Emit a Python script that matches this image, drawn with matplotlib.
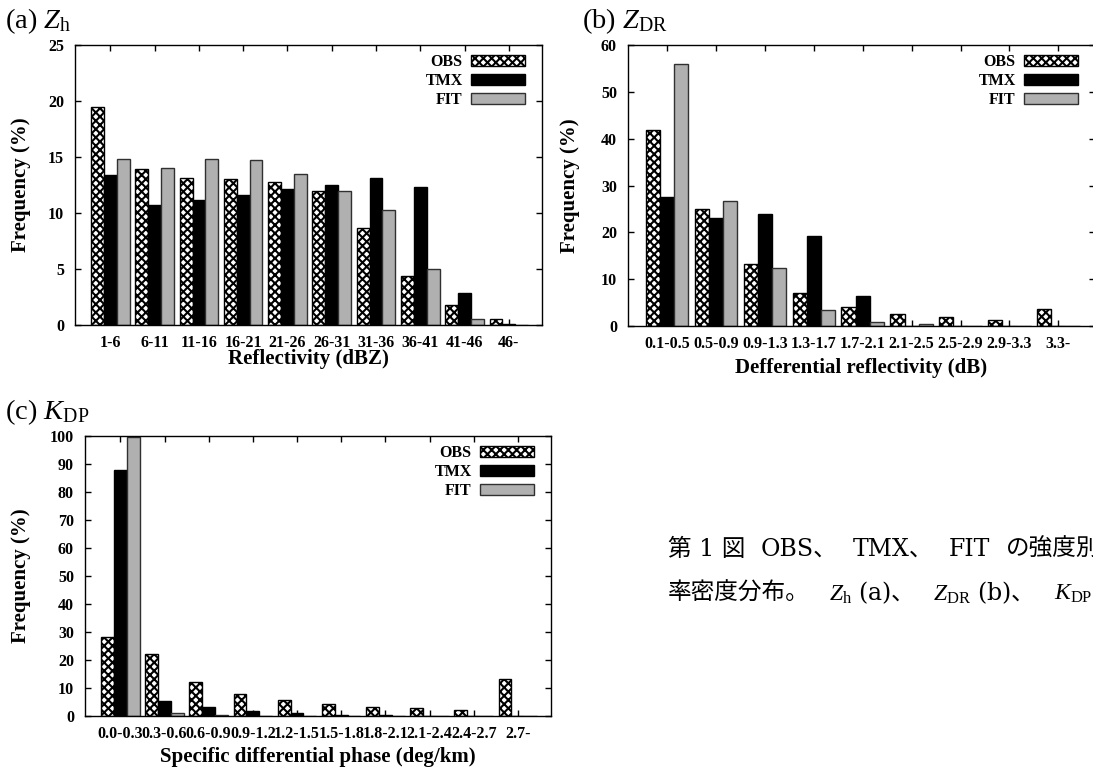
import numpy as np
import matplotlib.pyplot as plt

plt.rcParams['font.family'] = ['Liberation Serif', 'Noto Sans CJK JP']
plt.rcParams['mathtext.fontset'] = 'custom'
plt.rcParams['mathtext.rm'] = 'Liberation Serif'
plt.rcParams['mathtext.it'] = 'Liberation Serif:italic'
plt.rcParams['hatch.linewidth'] = 1.5

# (a) Zh
zh_bins = ['1-6', '6-11', '11-16', '16-21', '21-26', '26-31', '31-36', '36-41', '41-46', '46-']
zh_obs = [19.5, 13.9, 13.1, 13.0, 12.8, 12.0, 8.7, 4.4, 1.8, 0.5]
zh_tmx = [13.4, 10.7, 11.2, 11.6, 12.1, 12.5, 13.1, 12.3, 2.9, 0.05]
zh_fit = [14.8, 14.0, 14.8, 14.7, 13.5, 12.0, 10.3, 5.0, 0.5, 0.0]

# (b) ZDR
zdr_bins = ['0.1-0.5', '0.5-0.9', '0.9-1.3', '1.3-1.7', '1.7-2.1', '2.1-2.5', '2.5-2.9', '2.9-3.3', '3.3-']
zdr_obs = [41.8, 25.0, 13.3, 7.0, 4.0, 2.5, 1.85, 1.2, 3.7]
zdr_tmx = [27.6, 23.0, 23.9, 19.3, 6.4, 0.0, 0.0, 0.0, 0.0]
zdr_fit = [55.9, 26.6, 12.4, 3.5, 0.85, 0.35, 0.1, 0.05, 0.05]

# (c) KDP
kdp_bins = ['0.0-0.3', '0.3-0.6', '0.6-0.9', '0.9-1.2', '1.2-1.5', '1.5-1.8', '1.8-2.1', '2.1-2.4', '2.4-2.7', '2.7-']
kdp_obs = [28.2, 22.0, 12.1, 7.8, 5.6, 4.2, 3.3, 2.8, 2.0, 13.2]
kdp_tmx = [88.0, 5.4, 3.2, 1.8, 1.0, 0.5, 0.2, 0.1, 0.1, 0.1]
kdp_fit = [99.5, 0.9, 0.2, 0.0, 0.0, 0.0, 0.0, 0.0, 0.0, 0.0]

# caption, word groups of a justified line (cut at the right edge, as in the source)
caption_1 = [['第 1 図'], ['OBS、'], ['TMX、'], ['FIT'], ['の強度別']]
caption_2 = [['率密度分布。'], [r'$\mathit{Z}_{\mathrm{h}}$ (a)', '、'],
             [r'$\mathit{Z}_{\mathrm{DR}}$ (b)', '、'], [r'$\mathit{K}_{\mathrm{DP}}$']]

W, H = 1093, 771
fig = plt.figure(figsize=(W / 100, H / 100), dpi=100)


def add_axes(left, right, top, bottom):
    return fig.add_axes([left / W, 1 - bottom / H, (right - left) / W, (bottom - top) / H])


def draw_panel(ax, bins, obs, tmx, fit, ymax, ystep, xlabel, xlabel_y, ylabel_x):
    x = np.arange(len(bins))
    w = 0.29
    ax.bar(x - w, obs, w, color='white', edgecolor='black', hatch='xxxx', linewidth=1.0, label='OBS')
    ax.bar(x, tmx, w, color='black', edgecolor='black', linewidth=1.0, label='TMX')
    ax.bar(x + w, fit, w, color='#b0b0b0', edgecolor='#303030', linewidth=1.0, label='FIT')
    ax.set_xlim(-0.8, len(bins) - 0.25)
    ax.set_ylim(0, ymax)
    ax.set_xticks(x)
    ax.set_xticklabels(bins, fontweight='bold', fontsize=11.5)
    ax.set_yticks(np.arange(0, ymax + ystep / 2, ystep))
    ax.set_yticklabels([str(v) for v in range(0, ymax + 1, ystep)], fontweight='bold', fontsize=11.5)
    ax.tick_params(direction='in', top=True, right=True, length=4, width=1.0)
    ax.tick_params(axis='x', pad=7)
    ax.tick_params(axis='y', pad=8)
    for s in ax.spines.values():
        s.set_linewidth(1.0)
    ax.set_xlabel(xlabel, fontweight='bold', fontsize=15)
    ax.set_ylabel('Frequency (%)', fontweight='bold', fontsize=15)
    ax.xaxis.set_label_coords(0.5, xlabel_y)
    ax.yaxis.set_label_coords(ylabel_x, 0.5)
    pw = ax.get_position().width * W
    ph = ax.get_position().height * H
    ax.legend(loc='upper right', bbox_to_anchor=(1 - 17 / pw, 1 - 9 / ph), frameon=False,
              markerfirst=False, handlelength=3.4, handleheight=0.7, labelspacing=0.2,
              borderpad=0, borderaxespad=0, handletextpad=0.5,
              prop={'weight': 'bold', 'size': 11.5})


ax_a = add_axes(75, 542, 45, 325)
draw_panel(ax_a, zh_bins, zh_obs, zh_tmx, zh_fit, 25, 5, 'Reflectivity (dBZ)', -0.085, -0.095)

ax_b = add_axes(628, 1095, 45, 326)
draw_panel(ax_b, zdr_bins, zdr_obs, zdr_tmx, zdr_fit, 60, 10, 'Defferential reflectivity (dB)', -0.115, -0.102)

ax_c = add_axes(85, 551, 436, 716)
draw_panel(ax_c, kdp_bins, kdp_obs, kdp_tmx, kdp_fit, 100, 10, 'Specific differential phase (deg/km)', -0.11, -0.116)

# panel titles
fig.text(5 / W, 1 - 28 / H, r'(a) $\mathit{Z}_{\mathrm{h}}$', fontsize=20.5, va='baseline')
fig.text(582 / W, 1 - 28 / H, r'(b) $\mathit{Z}_{\mathrm{DR}}$', fontsize=20.5, va='baseline')
fig.text(5 / W, 1 - 419 / H, r'(c) $\mathit{K}_{\mathrm{DP}}$', fontsize=20.5, va='baseline')

# caption: justified lines, space spread between word groups
renderer = fig.canvas.get_renderer()
cap_family = ['DejaVu Serif', 'Noto Sans CJK JP']


def justified_line(groups, x0, x1, y, fs):
    placed = []
    total = 0
    for g in groups:
        texts = [fig.text(0, 1 - y / H, tok, fontsize=fs, va='baseline', family=cap_family) for tok in g]
        widths = [t.get_window_extent(renderer).width for t in texts]
        placed.append((texts, widths))
        total += sum(widths)
    gap = (x1 - x0 - total) / (len(groups) - 1)
    x = x0
    for texts, widths in placed:
        for t, w in zip(texts, widths):
            t.set_x(x / W)
            x += w
        x += gap


justified_line(caption_1, 668, 1100, 556, 17)
justified_line(caption_2, 668, 1092, 600, 17)

fig.savefig('out.png', dpi=100)
